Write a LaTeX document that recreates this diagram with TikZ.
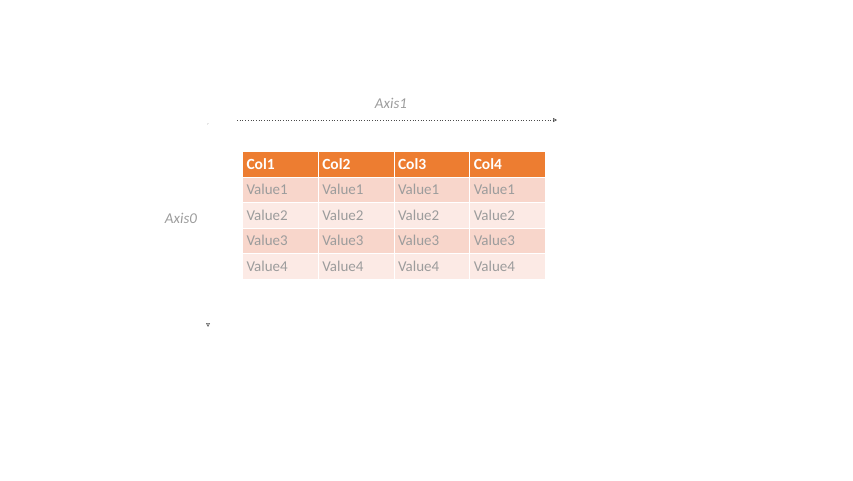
\documentclass[tikz,border=0pt]{standalone}
\usepackage{fontspec}
\setmainfont{Carlito}
\usetikzlibrary{arrows.meta}
\definecolor{hdr}{HTML}{ED7D31}
\definecolor{rowa}{HTML}{F8D6CB}
\definecolor{rowb}{HTML}{FCEAE5}
\definecolor{txtg}{HTML}{9C9C9C}
\tikzset{
  cell/.style={draw=white, line width=1pt, minimum width=76pt, minimum height=25.5pt,
    inner sep=0pt, anchor=north west, text width=68pt, align=left, font=\fontsize{15pt}{17pt}\selectfont},
  hcell/.style={cell, fill=hdr, text=white, font=\bfseries\fontsize{15.5pt}{17pt}\selectfont},
  vcell/.style={cell, text=txtg},
  axlab/.style={text=txtg, font=\itshape\fontsize{15pt}{17pt}\selectfont, inner sep=1pt},
  axline/.style={dotted, line width=0.7pt, -{Triangle[open,length=4pt,width=4pt]}}
}
\begin{document}
\begin{tikzpicture}[x=1pt,y=-1pt]
\useasboundingbox (0,0) rectangle (853,480);
% header
\foreach \c [count=\i from 0] in {Col1,Col2,Col3,Col4}{
  \node[hcell] (h\i) at ({242+75.75*\i},151) {\c};
}
\foreach \r in {1,2,3,4}{
  \pgfmathsetmacro{\yy}{151+25.5*\r}
  \ifodd\r \def\fc{rowa}\else\def\fc{rowb}\fi
  \foreach \i in {0,1,2,3}{
    \node[vcell, fill=\fc] (v\r\i) at ({242+75.75*\i},\yy) {Value\r};
  }
}
% axes
\coordinate (a1s) at (237,120);
\coordinate (a1e) at (557,120);
\draw[axline, draw=black!70] (a1s) -- (a1e);
\node[axlab] (ax1) at (391,103) {Axis1};
\coordinate (a0s) at (208,124);
\coordinate (a0e) at (208,327);
\fill[black!40] (a0s) circle (0.6pt);
\draw[dotted, line width=0.7pt, draw=white, -{Triangle[open,length=4pt,width=4pt,color=black!60]}] (a0s) -- (a0e);
\node[axlab] (ax0) at (181,218) {Axis0};
\end{tikzpicture}
\end{document}
